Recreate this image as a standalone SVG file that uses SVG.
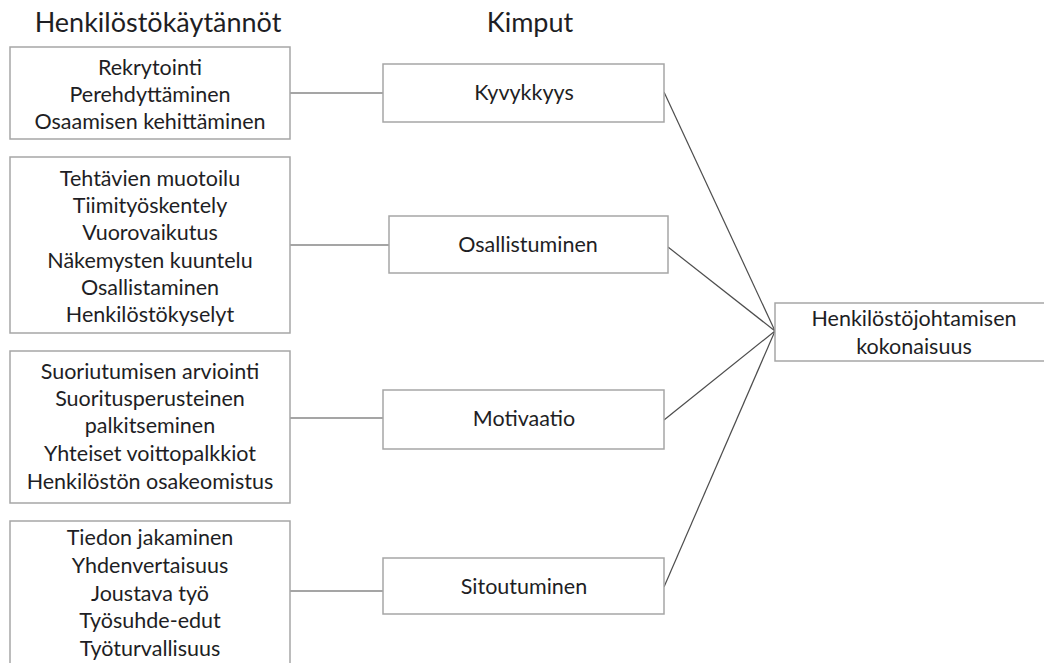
<svg xmlns="http://www.w3.org/2000/svg" width="1044" height="663" viewBox="0 0 1044 663">
<style>
.box{fill:#fff;stroke:#a6a6a6;stroke-width:1.5}
.t{font-family:Lato,"Open Sans",sans-serif;font-size:21.5px;fill:#1e1e24;text-anchor:middle}
.h{font-family:Lato,"Open Sans",sans-serif;font-size:27px;fill:#1e1e24;text-anchor:middle}
.c{stroke:#4d4d4d;stroke-width:1.2;fill:none}
</style>
<rect width="1044" height="663" fill="#fff"/>
<text class="h" x="158" y="32">Henkilöstökäytännöt</text>
<text class="h" x="530" y="32">Kimput</text>
<g id="connectors">
<line class="c" x1="290" y1="93" x2="383" y2="93"/>
<line class="c" x1="290" y1="245" x2="389" y2="245"/>
<line class="c" x1="290" y1="418" x2="383" y2="418"/>
<line class="c" x1="290" y1="591" x2="383" y2="591"/>
<line class="c" x1="664" y1="92" x2="775" y2="331"/>
<line class="c" x1="668" y1="247" x2="775" y2="331"/>
<line class="c" x1="664" y1="420" x2="775" y2="331"/>
<line class="c" x1="664" y1="587" x2="775" y2="331"/>
</g>
<g id="practices1">
<rect class="box" x="10" y="47" width="280" height="92"/>
<text class="t" x="150" y="75">Rekrytointi</text>
<text class="t" x="150" y="102">Perehdyttäminen</text>
<text class="t" x="150" y="129">Osaamisen kehittäminen</text>
</g>
<g id="practices2">
<rect class="box" x="10" y="157" width="280" height="176"/>
<text class="t" x="150" y="186">Tehtävien muotoilu</text>
<text class="t" x="150" y="213">Tiimityöskentely</text>
<text class="t" x="150" y="240">Vuorovaikutus</text>
<text class="t" x="150" y="268">Näkemysten kuuntelu</text>
<text class="t" x="150" y="295">Osallistaminen</text>
<text class="t" x="150" y="322">Henkilöstökyselyt</text>
</g>
<g id="practices3">
<rect class="box" x="10" y="351" width="280" height="152"/>
<text class="t" x="150" y="379">Suoriutumisen arviointi</text>
<text class="t" x="150" y="406">Suoritusperusteinen</text>
<text class="t" x="150" y="433">palkitseminen</text>
<text class="t" x="150" y="461">Yhteiset voittopalkkiot</text>
<text class="t" x="150" y="489">Henkilöstön osakeomistus</text>
</g>
<g id="practices4">
<rect class="box" x="10" y="521" width="280" height="160"/>
<text class="t" x="150" y="545">Tiedon jakaminen</text>
<text class="t" x="150" y="573">Yhdenvertaisuus</text>
<text class="t" x="150" y="601">Joustava työ</text>
<text class="t" x="150" y="628">Työsuhde-edut</text>
<text class="t" x="150" y="656">Työturvallisuus</text>
</g>
<g id="kyvykkyys">
<rect class="box" x="383" y="64" width="281" height="58"/>
<text class="t" x="524" y="100">Kyvykkyys</text>
</g>
<g id="osallistuminen">
<rect class="box" x="389" y="216" width="279" height="57"/>
<text class="t" x="528" y="252">Osallistuminen</text>
</g>
<g id="motivaatio">
<rect class="box" x="383" y="390" width="281" height="59"/>
<text class="t" x="524" y="426">Motivaatio</text>
</g>
<g id="sitoutuminen">
<rect class="box" x="383" y="558" width="281" height="56"/>
<text class="t" x="524" y="594">Sitoutuminen</text>
</g>
<g id="kokonaisuus">
<rect class="box" x="775" y="303" width="275" height="58"/>
<text class="t" x="914" y="326">Henkilöstöjohtamisen</text>
<text class="t" x="914" y="354">kokonaisuus</text>
</g>
</svg>
